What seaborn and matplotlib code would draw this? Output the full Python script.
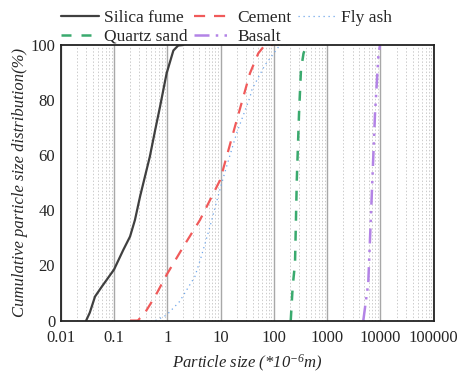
import numpy as np
import pandas as pd
import matplotlib
matplotlib.use("Agg")
import matplotlib.pyplot as plt
import seaborn as sns
from matplotlib.ticker import LogLocator, FuncFormatter, FixedLocator

# Particle size distribution data (size in micrometres, cumulative %)
silica_x = [0.03, 0.035, 0.044, 0.059, 0.073, 0.1, 0.149, 0.2, 0.247, 0.308, 0.47, 0.59, 0.73, 0.97, 1.3, 1.6, 2.0]
silica_y = [0, 2.8, 8.7, 12.3, 14.8, 18.5, 25.6, 30.5, 36.5, 45, 59.5, 69, 77.6, 89.7, 98, 99.8, 100]

cement_x = [0.2, 0.28, 0.38, 0.6, 0.97, 2.0, 4.1, 9.8, 18.6, 35.5, 51, 68, 96]
cement_y = [0, 0, 2.8, 9, 16.6, 26.8, 36.5, 51, 70.4, 89.7, 97, 100, 100]

flyash_x = [0.6, 0.97, 1.7, 3.3, 4.3, 6.3, 9.1, 12.1, 20, 35.5, 39, 68, 130, 186]
flyash_y = [0, 2, 6.9, 16, 23, 34, 45.6, 54, 68, 81, 84, 92.7, 100, 100]

quartz_x = [207, 225, 249, 269, 296, 322, 360, 412]
quartz_y = [0, 12.3, 20.8, 51, 75, 91, 97, 100]

basalt_x = [4760, 5890, 6840, 7890, 9120, 9780]
basalt_y = [0, 13.5, 45, 75, 95.8, 100]

x_ticks = [0.01, 0.1, 1, 10, 100, 1000, 10000, 100000]
x_tick_labels = ["0.01", "0.1", "1", "10", "100", "1000", "10000", "100000"]
y_ticks = [0, 20, 40, 60, 80, 100]

series = [
    ("Silica fume", silica_x, silica_y, "#404040", "-", 1.6),
    ("Cement", cement_x, cement_y, "#f05a5a", (0, (5, 4)), 1.6),
    ("Fly ash", flyash_x, flyash_y, "#6fa6ea", (0, (1, 3)), 0.9),
    ("Quartz sand", quartz_x, quartz_y, "#3aaa6e", (0, (4, 4)), 1.8),
    ("Basalt", basalt_x, basalt_y, "#b383e6", (0, (6, 2.5, 1, 2.5, 1, 2.5)), 1.8),
]

sns.set_style("white")
plt.rcParams["font.family"] = ["Liberation Serif", "DejaVu Serif"]
plt.rcParams["mathtext.fontset"] = "custom"
plt.rcParams["mathtext.it"] = "Liberation Serif:italic"
plt.rcParams["mathtext.rm"] = "Liberation Serif:italic"

fig = plt.figure(figsize=(4.6, 3.78), dpi=100)
ax = fig.add_axes([0.132, 0.152, 0.811, 0.729])

for name, xs, ys, color, ls, lw in series:
    df = pd.DataFrame({"size": xs, "cum": ys})
    sns.lineplot(data=df, x="size", y="cum", ax=ax, color=color,
                 linestyle=ls, linewidth=lw, label=name, estimator=None,
                 sort=False)

ax.set_xscale("log")
ax.set_xlim(0.01, 100000)
ax.set_ylim(0, 100)

ax.xaxis.set_major_locator(FixedLocator(x_ticks))
ax.xaxis.set_major_formatter(FuncFormatter(
    lambda v, p: x_tick_labels[x_ticks.index(min(x_ticks, key=lambda t: abs(np.log10(t) - np.log10(v))))]))
ax.xaxis.set_minor_locator(LogLocator(base=10, subs=np.arange(2, 10), numticks=50))
ax.set_yticks(y_ticks)

ax.grid(True, which="major", axis="x", color="#a8a8a8", linestyle="-", linewidth=1.0)
ax.grid(True, which="minor", axis="x", color="#cccccc", linestyle=(0, (1.5, 2)), linewidth=0.7)
ax.grid(False, axis="y")
ax.set_axisbelow(True)

ax.tick_params(axis="both", which="major", direction="in", labelsize=12, length=3, width=0.8)
ax.tick_params(axis="x", which="major", pad=7)
ax.tick_params(axis="y", which="major", pad=4)
ax.tick_params(axis="x", which="minor", direction="in", length=2, width=0.6)
for sp in ax.spines.values():
    sp.set_color("#222222")
    sp.set_linewidth(1.3)

ax.set_xlabel(r"Particle size (*10$^{-6}$m)", fontsize=12, style="italic", labelpad=5)
ax.set_ylabel("Cumulative particle size distribution(%)", fontsize=12, style="italic", labelpad=2)

h, l = ax.get_legend_handles_labels()
lookup = dict(zip(l, h))
order = ["Silica fume", "Quartz sand", "Cement", "Basalt", "Fly ash"]
ax.legend([lookup[k] for k in order], order, ncol=3, frameon=False,
          fontsize=12.5, loc="lower left", bbox_to_anchor=(0.0, 1.0),
          handlelength=2.2, columnspacing=0.35, handletextpad=0.3,
          labelspacing=0.18, borderaxespad=0.0, borderpad=0.0)

fig.savefig("out.png", dpi=100)
